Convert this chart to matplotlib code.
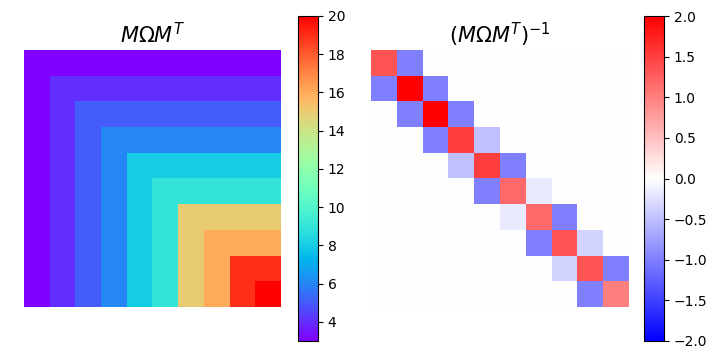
import numpy as np
import matplotlib
matplotlib.use("Agg")
import matplotlib.pyplot as plt

# Cumulative values per row/column index (left matrix entry = value[min(i, j)])
left_levels = [3, 4, 5, 6, 8, 9, 15, 16, 19, 20]
# Inverse (tridiagonal) matrix
inv_diag = [1.33, 2.0, 2.0, 1.5, 1.5, 1.17, 1.17, 1.33, 1.33, 1.0]
inv_off = [-1.0, -1.0, -1.0, -0.5, -1.0, -0.17, -1.0, -0.33, -1.0]

n = len(left_levels)
idx = np.minimum.outer(np.arange(n), np.arange(n))
left = np.array(left_levels, dtype=float)[idx]
right = np.diag(inv_diag) + np.diag(inv_off, 1) + np.diag(inv_off, -1)

fig = plt.figure(figsize=(7.2, 3.6), dpi=100)
W, H = 720, 360

def box(x0, y0, x1, y1):
    return [x0 / W, 1 - y1 / H, (x1 - x0) / W, (y1 - y0) / H]

ax1 = fig.add_axes(box(24, 50, 282, 307))
im1 = ax1.imshow(left, cmap="rainbow", interpolation="nearest")
ax1.axis("off")
ax1.set_title(r"$M\Omega M^T$", fontsize=15, pad=5)
cax1 = fig.add_axes(box(298, 16, 318, 341))
fig.colorbar(im1, cax=cax1)
cax1.tick_params(labelsize=10)

ax2 = fig.add_axes(box(371, 50, 629, 307))
im2 = ax2.imshow(right, cmap="bwr", vmin=-2, vmax=2, interpolation="nearest")
ax2.axis("off")
ax2.set_title(r"$(M\Omega M^T)^{-1}$", fontsize=15, pad=5)
cax2 = fig.add_axes(box(644, 16, 664, 341))
fig.colorbar(im2, cax=cax2)
cax2.tick_params(labelsize=10)

fig.savefig("out.png", dpi=100)
